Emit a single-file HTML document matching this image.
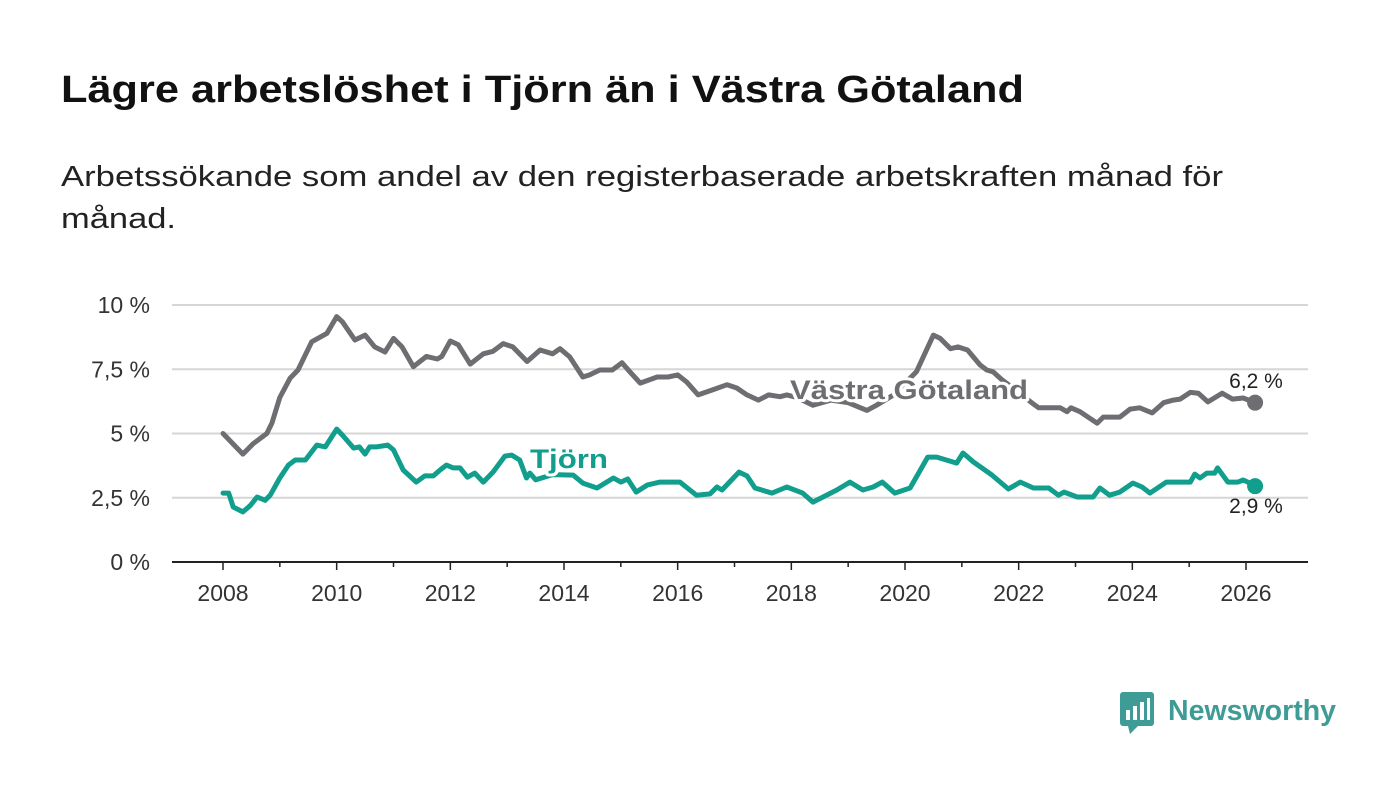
<!DOCTYPE html>
<html><head><meta charset="utf-8">
<style>
html,body{margin:0;padding:0;background:#fff;}
svg text{font-family:"Liberation Sans","DejaVu Sans",sans-serif;}
</style></head>
<body>
<svg id="chart" width="1400" height="794" viewBox="0 0 1400 794" xmlns="http://www.w3.org/2000/svg">
<rect width="1400" height="794" fill="#fff"/>
<text x="61" y="102" font-size="38" font-weight="bold" fill="#111" textLength="963" lengthAdjust="spacingAndGlyphs">Lägre arbetslöshet i Tjörn än i Västra Götaland</text>
<text x="61" y="186" font-size="29" fill="#222" textLength="1162" lengthAdjust="spacingAndGlyphs">Arbetssökande som andel av den registerbaserade arbetskraften månad för</text>
<text x="61" y="228" font-size="29" fill="#222" textLength="115" lengthAdjust="spacingAndGlyphs">månad.</text>
<g id="grid"></g>
<g id="yaxis"></g>
<g id="xaxis"></g>
<g id="series"></g>
<g id="labels"></g>
<g>
<rect x="1120" y="692" width="34" height="34" rx="3" fill="#3e9b96"/>
<path d="M1128 726 L1138 726 L1130 734 Z" fill="#3e9b96"/>
<rect x="1126" y="710" width="4" height="10" fill="#fff"/>
<rect x="1133" y="706" width="4" height="14" fill="#fff"/>
<rect x="1140" y="702" width="4" height="18" fill="#fff"/>
<rect x="1147" y="698" width="3" height="22" fill="#fff"/>
<text x="1168" y="720" font-size="29" font-weight="bold" fill="#3e9b96" textLength="168" lengthAdjust="spacingAndGlyphs">Newsworthy</text>
</g>
</svg>
<script>
const vgDates=[2008.0,2008.35,2008.53,2008.77,2008.86,2009.0,2009.18,2009.32,2009.56,2009.83,2010.0,2010.1,2010.32,2010.5,2010.67,2010.85,2011.0,2011.15,2011.35,2011.58,2011.77,2011.85,2012.0,2012.14,2012.35,2012.58,2012.75,2012.93,2013.1,2013.35,2013.58,2013.8,2013.93,2014.1,2014.33,2014.45,2014.63,2014.85,2015.02,2015.16,2015.34,2015.64,2015.83,2016.0,2016.16,2016.36,2016.62,2016.87,2017.04,2017.22,2017.42,2017.6,2017.8,2017.92,2018.1,2018.38,2018.7,2019.0,2019.33,2019.5,2019.8,2020.2,2020.5,2020.62,2020.8,2020.93,2021.1,2021.32,2021.44,2021.55,2021.7,2022.0,2022.23,2022.35,2022.73,2022.85,2022.92,2023.08,2023.38,2023.49,2023.78,2023.96,2024.13,2024.35,2024.55,2024.72,2024.84,2025.02,2025.16,2025.33,2025.58,2025.76,2025.95,2026.16];
const vgValues=[5.0,4.2,4.6,5.0,5.4,6.4,7.15,7.47,8.57,8.9,9.55,9.35,8.64,8.83,8.37,8.17,8.7,8.37,7.6,8.0,7.9,8.0,8.6,8.45,7.7,8.1,8.2,8.5,8.37,7.8,8.25,8.1,8.3,7.98,7.2,7.28,7.47,7.47,7.75,7.4,6.96,7.2,7.2,7.28,7.0,6.5,6.7,6.9,6.77,6.5,6.3,6.5,6.43,6.5,6.4,6.1,6.3,6.2,5.9,6.1,6.5,7.4,8.83,8.7,8.3,8.37,8.25,7.67,7.47,7.4,7.1,6.6,6.2,6.0,6.0,5.85,6.0,5.85,5.4,5.64,5.64,5.95,6.0,5.8,6.2,6.3,6.34,6.6,6.57,6.23,6.57,6.34,6.38,6.2];
const tjDates=[2008.0,2008.1,2008.18,2008.35,2008.48,2008.6,2008.74,2008.83,2009.0,2009.15,2009.27,2009.45,2009.65,2009.8,2010.0,2010.1,2010.3,2010.4,2010.5,2010.58,2010.7,2010.9,2011.0,2011.17,2011.4,2011.55,2011.7,2011.82,2011.93,2012.05,2012.17,2012.3,2012.43,2012.58,2012.75,2012.96,2013.08,2013.22,2013.34,2013.4,2013.5,2013.8,2014.16,2014.33,2014.58,2014.87,2015.0,2015.12,2015.27,2015.47,2015.69,2016.04,2016.33,2016.57,2016.69,2016.78,2017.08,2017.22,2017.36,2017.66,2017.92,2018.2,2018.38,2018.8,2019.03,2019.26,2019.44,2019.6,2019.82,2020.09,2020.4,2020.56,2020.91,2021.02,2021.2,2021.53,2021.82,2022.03,2022.26,2022.53,2022.7,2022.8,2023.03,2023.2,2023.31,2023.43,2023.6,2023.78,2024.01,2024.17,2024.31,2024.6,2025.02,2025.1,2025.19,2025.31,2025.45,2025.5,2025.68,2025.86,2025.95,2026.07,2026.16];
const tjValues=[2.68,2.68,2.14,1.95,2.2,2.53,2.4,2.6,3.27,3.77,3.97,3.97,4.55,4.48,5.17,4.94,4.43,4.48,4.2,4.48,4.48,4.55,4.36,3.58,3.11,3.35,3.35,3.58,3.77,3.66,3.66,3.3,3.46,3.11,3.5,4.12,4.16,3.97,3.27,3.46,3.2,3.4,3.38,3.07,2.88,3.27,3.11,3.23,2.72,3.0,3.11,3.11,2.6,2.65,2.92,2.8,3.5,3.35,2.88,2.68,2.92,2.68,2.33,2.8,3.11,2.8,2.92,3.11,2.68,2.88,4.08,4.08,3.85,4.24,3.9,3.38,2.84,3.11,2.88,2.88,2.6,2.72,2.53,2.53,2.53,2.88,2.6,2.72,3.07,2.92,2.68,3.11,3.11,3.42,3.27,3.46,3.46,3.66,3.11,3.11,3.19,3.07,2.95];
const yTicks=[0,2.5,5,7.5,10];
const yTickLabels=["0 %","2,5 %","5 %","7,5 %","10 %"];
const xTicks=[2008,2010,2012,2014,2016,2018,2020,2022,2024,2026];
const lastLabels=["6,2 %","2,9 %"];

const NS="http://www.w3.org/2000/svg";
const X0=172,X1=1308,Y0=562;
function xs(yr){return 223+(yr-2008)*(1246-223)/18;}
function ys(v){return Y0-v*(562-305)/10;}
function el(tag,attrs,parent){const e=document.createElementNS(NS,tag);for(const k in attrs)e.setAttribute(k,attrs[k]);parent.appendChild(e);return e;}
const grid=document.getElementById('grid'),yax=document.getElementById('yaxis'),xax=document.getElementById('xaxis'),ser=document.getElementById('series'),lab=document.getElementById('labels');
yTicks.forEach((t,i)=>{
  if(t>0){const g=el('line',{x1:X0,x2:X1,y1:ys(t),y2:ys(t),stroke:'#d6d6d6','stroke-width':2},grid);
  
  }
  const tx=el('text',{x:150,y:ys(t)+8,'font-size':23,fill:'#333','text-anchor':'end'},yax);
  tx.textContent=yTickLabels[i];
  
  
});
const base=el('line',{x1:X0,x2:X1,y1:Y0,y2:Y0,stroke:'#222','stroke-width':2},xax);


for(let yr=2008;yr<=2026;yr++){
  const tk=el('line',{x1:xs(yr),x2:xs(yr),y1:Y0,y2:Y0+(yr%2===0?8:5),stroke:'#222','stroke-width':1.5},xax);
  
  
}
xTicks.forEach(yr=>{
  const tx=el('text',{x:xs(yr),y:601,'font-size':23,fill:'#333','text-anchor':'middle'},xax);
  tx.textContent=String(yr);
  
  
});
function line(dates,vals,color,name){
  const d=dates.map((t,i)=>(i?'L':'M')+xs(t).toFixed(1)+' '+ys(vals[i]).toFixed(1)).join(' ');
  const p=el('path',{d:d,fill:'none',stroke:color,'stroke-width':5,'stroke-linejoin':'round','stroke-linecap':'round'},ser);
  
  
  const n=dates.length-1;
  const c=el('circle',{cx:xs(dates[n]),cy:ys(vals[n]),r:8,fill:color},ser);
  
  
}
line(vgDates,vgValues,'#6e6d72','vastra-gotaland');
line(tjDates,tjValues,'#119e8d','tjorn');
const vl=el('text',{x:909,y:399,'font-size':27,'font-weight':'bold',fill:'#6e6d72','text-anchor':'middle',stroke:'#fff','stroke-width':6,'paint-order':'stroke','stroke-linejoin':'round',textLength:238,lengthAdjust:'spacingAndGlyphs'},lab);
vl.textContent='Västra Götaland';


const tl=el('text',{x:569,y:468,'font-size':27,'font-weight':'bold',fill:'#119e8d','text-anchor':'middle',stroke:'#fff','stroke-width':6,'paint-order':'stroke','stroke-linejoin':'round',textLength:78,lengthAdjust:'spacingAndGlyphs'},lab);
tl.textContent='Tjörn';


const l1=el('text',{x:1256,y:388,'font-size':21,fill:'#222','text-anchor':'middle'},lab);
l1.textContent=lastLabels[0];


const l2=el('text',{x:1256,y:513,'font-size':21,fill:'#222','text-anchor':'middle'},lab);
l2.textContent=lastLabels[1];


</script>
</body></html>
